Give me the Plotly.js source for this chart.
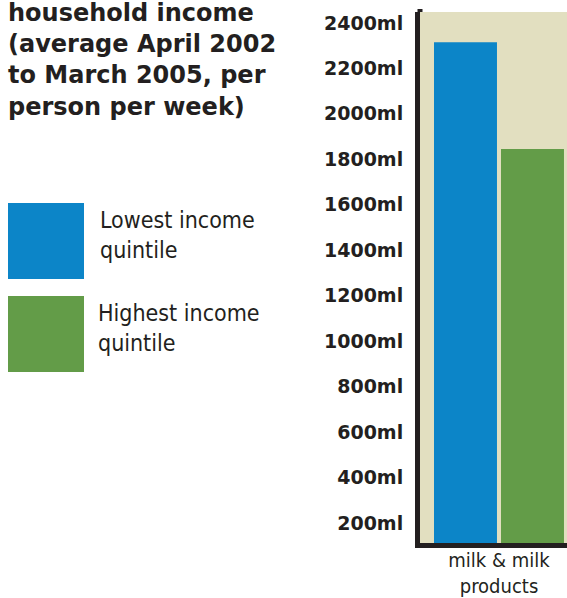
<!DOCTYPE html>
<html>
<head>
<meta charset="utf-8">
<script src="https://cdn.plot.ly/plotly-3.0.1.min.js"></script>
<style>html,body{margin:0;padding:0;background:#fff;}#chart{width:567px;height:598px;}</style>
</head>
<body>
<div id="chart"></div>
<script>
// ---- data ----
const categories = ['milk & milk<br>products'];
const seriesNames = ['Lowest income<br>quintile', 'Highest income<br>quintile'];
const lowestValues = [2315];
const highestValues = [1845];
const seriesColors = ['#0c85c8', '#639c48'];
const tickValues = [200, 400, 600, 800, 1000, 1200, 1400, 1600, 1800, 2000, 2200, 2400];
const tickLabels = ['200ml', '400ml', '600ml', '800ml', '1000ml', '1200ml', '1400ml', '1600ml', '1800ml', '2000ml', '2200ml', '2400ml'];
const titleLines = ['household income', '(average April 2002', 'to March 2005, per', 'person per week)'];

// ---- layout geometry ----
const W = 567, H = 598;
const L = 420, R = 0, T = 12, B = 55;
const plotW = W - L - R, plotH = H - T - B;
const px = x => (x - L) / plotW;
const py = y => (H - B - y) / plotH;

const dark = '#231f20';
const regFont = '"DejaVu Sans Condensed", "DejaVu Sans", sans-serif';
const boldFont = '"DejaVu Sans", sans-serif';

const traces = [
  {type: 'bar', x: categories, y: lowestValues, name: seriesNames[0], marker: {color: seriesColors[0]}, hoverinfo: 'none'},
  {type: 'bar', x: categories, y: highestValues, name: seriesNames[1], marker: {color: seriesColors[1]}, hoverinfo: 'none'}
];

const swatchTops = [203, 296];
const textTops = [205, 298];
const textLefts = [98, 96];
const shapes = seriesColors.map((c, i) => ({
  type: 'rect', xref: 'paper', yref: 'paper',
  x0: px(8), x1: px(84), y0: py(swatchTops[i] + 76), y1: py(swatchTops[i]),
  fillcolor: c, line: {width: 0}
}));
// small extension of the vertical axis line above the plot area
shapes.push({type: 'line', xref: 'paper', yref: 'paper', x0: 0, x1: 0, y0: 1, y1: py(9),
  line: {color: dark, width: 5}});

const annotations = seriesNames.map((n, i) => ({
  xref: 'paper', yref: 'paper', x: px(textLefts[i]), y: py(textTops[i]),
  xanchor: 'left', yanchor: 'top', align: 'left', showarrow: false,
  text: n, font: {family: regFont, size: 23, color: dark}
}));
annotations.push({
  xref: 'paper', yref: 'paper', x: px(6), y: py(-3),
  xanchor: 'left', yanchor: 'top', align: 'left', showarrow: false,
  text: titleLines.join('<br>'),
  font: {family: boldFont, size: 24, color: dark, weight: 'bold'}
});

const layout = {
  width: W, height: H,
  margin: {l: L, r: R, t: T, b: B, pad: 0},
  paper_bgcolor: '#ffffff',
  plot_bgcolor: '#e2dfc0',
  showlegend: false,
  barmode: 'group',
  bargap: 0.2,
  bargroupgap: 0.06,
  xaxis: {
    type: 'category',
    range: [-0.4716, 0.406],
    showline: true, linewidth: 5, linecolor: dark,
    showgrid: false, zeroline: false,
    ticks: '', ticklabelstandoff: -5,
    tickfont: {family: regFont, size: 20, color: dark}
  },
  yaxis: {
    range: [112, 2448],
    tickvals: tickValues, ticktext: tickLabels,
    showline: true, linewidth: 5, linecolor: dark,
    showgrid: false, zeroline: false,
    ticks: 'outside', ticklen: 8, tickcolor: 'rgba(0,0,0,0)',
    tickfont: {family: boldFont, size: 19, color: dark, weight: 'bold'}
  },
  shapes: shapes,
  annotations: annotations
};

Plotly.newPlot('chart', traces, layout, {staticPlot: true, displayModeBar: false});
</script>
</body>
</html>
